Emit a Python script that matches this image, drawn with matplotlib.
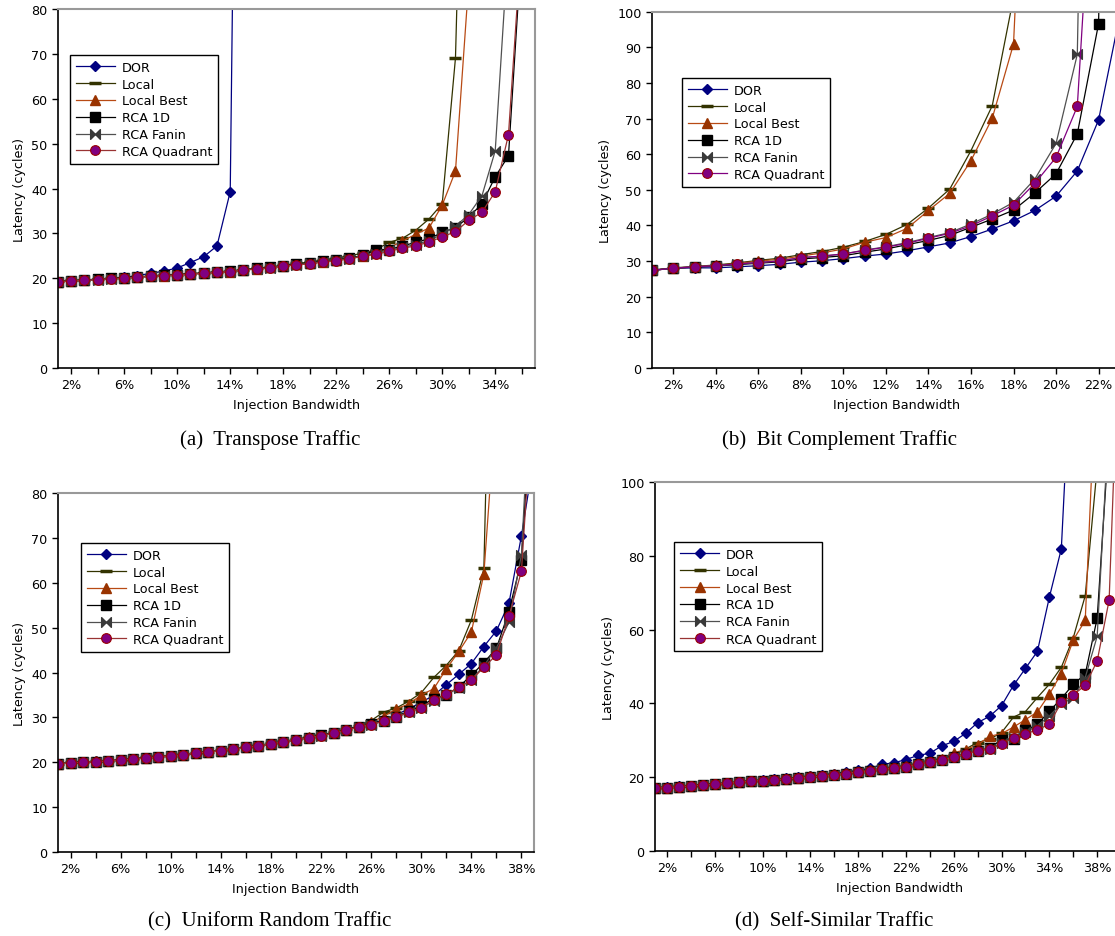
import numpy as np
import matplotlib
matplotlib.use("Agg")
import matplotlib.pyplot as plt
from matplotlib.path import Path
from matplotlib.ticker import FixedLocator, FixedFormatter

# ---- data (latency in cycles vs injection bandwidth in %) ----
series_names = ["DOR", "Local", "Local Best", "RCA 1D", "RCA Fanin", "RCA Quadrant"]

# (a) Transpose traffic
a_dor = [19.2, 19.4, 19.6, 19.8, 20.0, 20.2, 20.6, 21.1, 21.6, 22.3, 23.5, 24.8, 27.2, 39.3, 290]
a_local = [19.3, 19.5, 19.6, 19.8, 20.0, 20.1, 20.3, 20.5, 20.7, 20.8, 21.0, 21.2, 21.4, 21.6, 21.9,
           22.2, 22.5, 22.9, 23.3, 23.6, 24.1, 24.5, 25.0, 25.6, 26.4, 28.0, 28.9, 30.7, 33.2, 36.6,
           69.1, 180]
a_best = [19.2, 19.4, 19.6, 19.8, 20.0, 20.1, 20.3, 20.4, 20.6, 20.8, 21.0, 21.1, 21.3, 21.5, 21.8,
          22.1, 22.4, 22.7, 23.1, 23.3, 23.7, 24.1, 24.5, 25.0, 25.6, 26.8, 28.3, 29.8, 31.2, 36.3,
          43.9, 86]
a_1d = [19.2, 19.4, 19.6, 19.8, 20.0, 20.1, 20.3, 20.5, 20.7, 20.8, 21.0, 21.2, 21.4, 21.6, 21.9,
        22.2, 22.4, 22.8, 23.1, 23.4, 23.8, 24.1, 24.5, 25.1, 26.3, 26.4, 27.2, 28.0, 28.8, 30.2,
        31.3, 33.6, 36.6, 42.6, 47.3, 94]
a_fanin = [19.2, 19.4, 19.5, 19.7, 19.9, 20.0, 20.2, 20.4, 20.6, 20.7, 20.9, 21.1, 21.3, 21.5, 21.8,
           22.1, 22.3, 22.7, 23.0, 23.3, 23.7, 24.0, 24.4, 25.0, 25.5, 26.2, 26.9, 27.5, 28.4, 29.8,
           31.6, 34.2, 38.4, 48.4, 95]
a_quad = [19.2, 19.4, 19.5, 19.7, 19.9, 20.0, 20.2, 20.4, 20.6, 20.7, 20.9, 21.1, 21.3, 21.5, 21.8,
          22.1, 22.3, 22.7, 23.0, 23.2, 23.6, 23.9, 24.3, 24.9, 25.3, 26.0, 26.7, 27.2, 28.1, 29.2,
          30.4, 32.9, 34.7, 39.3, 52.0, 96]

# (b) Bit complement traffic
b_dor = [27.4, 28.0, 28.1, 28.1, 28.4, 28.7, 29.1, 29.7, 30.1, 30.7, 31.4, 32.0, 32.9, 34.0, 35.1,
         36.9, 39.0, 41.3, 44.2, 48.2, 55.3, 69.6, 99]
b_local = [27.5, 28.1, 28.5, 28.9, 29.5, 30.2, 30.8, 31.8, 32.7, 33.9, 35.5, 37.5, 40.3, 44.9, 50.2,
           61.0, 73.6, 104, 300]
b_best = [27.4, 28.0, 28.4, 28.8, 29.3, 30.0, 30.5, 31.4, 32.3, 33.4, 35.3, 36.6, 39.2, 44.2, 49.0,
          58.2, 70.1, 90.9, 220]
b_1d = [27.4, 28.0, 28.3, 28.6, 29.0, 29.4, 29.8, 30.6, 31.0, 31.5, 32.5, 33.4, 34.6, 35.8, 37.2,
        39.5, 41.8, 44.3, 49.1, 54.5, 65.7, 96.6, 400]
b_fanin = [27.4, 28.0, 28.4, 28.7, 29.1, 29.6, 30.1, 30.9, 31.4, 32.0, 33.1, 34.0, 35.2, 36.6, 38.0,
           40.4, 43.2, 46.5, 53.0, 63.0, 88.0, 400]
b_quad = [27.4, 28.0, 28.4, 28.7, 29.2, 29.6, 30.0, 31.0, 31.4, 32.0, 33.0, 33.9, 35.0, 36.4, 37.8,
          39.9, 42.7, 45.7, 51.8, 59.1, 73.4, 172]

# (c) Uniform random traffic
c_dor = [19.6, 19.9, 20.0, 20.2, 20.3, 20.5, 20.7, 21.0, 21.2, 21.5, 21.7, 22.0, 22.3, 22.6, 22.9,
         23.3, 23.7, 24.1, 24.6, 25.0, 25.5, 26.0, 26.6, 27.3, 27.9, 28.6, 29.5, 30.6, 31.9, 33.4,
         34.9, 37.3, 39.6, 42.0, 45.8, 49.3, 55.4, 70.5, 88]
c_local = [19.7, 20.0, 20.1, 20.2, 20.4, 20.6, 20.8, 21.1, 21.3, 21.5, 21.8, 22.1, 22.4, 22.7, 23.0,
           23.4, 23.8, 24.2, 24.7, 25.1, 25.7, 26.1, 26.7, 27.4, 28.0, 29.3, 31.2, 32.1, 33.6, 35.5,
           38.9, 41.6, 44.9, 51.7, 63.2, 180]
c_best = [19.6, 19.9, 20.0, 20.2, 20.3, 20.5, 20.7, 21.0, 21.2, 21.5, 21.7, 22.0, 22.3, 22.6, 22.9,
          23.3, 23.7, 24.1, 24.6, 25.0, 25.6, 26.0, 26.6, 27.3, 27.9, 29.0, 30.2, 31.9, 33.0, 35.0,
          36.4, 40.8, 44.7, 49.0, 62.0, 101]
c_1d = [19.6, 19.9, 20.0, 20.1, 20.3, 20.5, 20.7, 21.0, 21.2, 21.4, 21.7, 22.0, 22.3, 22.6, 22.9,
        23.3, 23.7, 24.0, 24.6, 25.0, 25.5, 26.0, 26.6, 27.3, 27.9, 28.5, 29.3, 30.2, 31.4, 32.6,
        34.2, 35.0, 36.8, 39.4, 42.2, 45.4, 53.6, 65.1, 110]
c_fanin = [19.6, 19.9, 20.0, 20.1, 20.3, 20.5, 20.7, 21.0, 21.2, 21.4, 21.7, 22.0, 22.3, 22.6, 22.9,
           23.3, 23.7, 24.0, 24.6, 24.9, 25.5, 25.9, 26.5, 27.2, 27.8, 28.4, 29.2, 30.1, 31.1, 32.2,
           33.7, 35.1, 36.6, 38.4, 41.5, 45.5, 51.2, 66.3, 120]
c_quad = [19.6, 19.9, 20.0, 20.1, 20.3, 20.5, 20.7, 21.0, 21.2, 21.4, 21.7, 22.0, 22.3, 22.6, 22.9,
          23.3, 23.7, 24.0, 24.6, 24.9, 25.5, 25.9, 26.5, 27.2, 27.8, 28.4, 29.2, 30.1, 31.1, 32.2,
          33.8, 35.2, 36.7, 38.3, 41.2, 43.9, 52.5, 62.6, 106]

# (d) Self-similar traffic
d_dor = [17.1, 17.3, 17.5, 17.7, 18.0, 18.2, 18.4, 18.7, 19.0, 19.2, 19.4, 19.7, 20.0, 20.3, 20.6,
         21.0, 21.4, 21.9, 22.4, 23.5, 23.9, 24.8, 25.9, 26.5, 28.5, 29.7, 31.9, 34.8, 36.5, 39.4,
         44.9, 49.5, 54.1, 68.8, 81.9, 147]
d_local = [17.1, 17.3, 17.5, 17.7, 18.0, 18.2, 18.4, 18.7, 19.0, 19.2, 19.4, 19.6, 19.9, 20.2, 20.4,
           20.8, 21.1, 21.5, 21.9, 22.2, 22.7, 23.1, 23.7, 24.3, 25.0, 25.9, 27.7, 29.4, 30.3, 32.1,
           36.3, 37.8, 41.6, 45.2, 49.8, 57.8, 69.2, 104]
d_best = [17.0, 17.2, 17.4, 17.6, 17.9, 18.1, 18.3, 18.6, 18.9, 19.1, 19.3, 19.6, 19.9, 20.2, 20.4,
          20.8, 21.1, 21.5, 21.9, 22.2, 22.6, 23.0, 23.6, 24.2, 24.9, 26.6, 27.5, 28.8, 31.1, 31.8,
          33.6, 35.6, 37.7, 42.5, 48.1, 57.2, 62.5, 137]
d_1d = [17.0, 17.2, 17.4, 17.6, 17.9, 18.1, 18.3, 18.6, 18.9, 19.1, 19.3, 19.5, 19.8, 20.1, 20.3,
        20.7, 21.0, 21.4, 21.8, 22.1, 22.5, 22.9, 23.5, 24.1, 24.7, 25.4, 26.3, 27.2, 27.9, 30.2,
        30.4, 32.7, 34.3, 37.9, 41.3, 45.2, 47.9, 63.1, 113]
d_fanin = [17.0, 17.2, 17.4, 17.6, 17.9, 18.1, 18.3, 18.6, 18.9, 19.1, 19.3, 19.5, 19.8, 20.1, 20.3,
           20.7, 21.0, 21.4, 21.8, 22.1, 22.5, 22.9, 23.5, 24.1, 24.7, 25.4, 26.2, 27.2, 27.6, 29.3,
           30.6, 32.2, 34.0, 36.6, 39.9, 41.5, 47.0, 58.2, 118]
d_quad = [17.0, 17.2, 17.4, 17.6, 17.9, 18.1, 18.3, 18.6, 18.9, 19.1, 19.3, 19.5, 19.8, 20.1, 20.3,
          20.7, 21.0, 21.4, 21.8, 22.1, 22.5, 22.9, 23.5, 24.1, 24.7, 25.4, 26.2, 27.2, 27.6, 29.0,
          30.7, 31.8, 32.8, 34.4, 40.3, 42.3, 44.9, 51.5, 68.0, 157]

captions = ["(a)  Transpose Traffic", "(b)  Bit Complement Traffic",
            "(c)  Uniform Random Traffic", "(d)  Self-Similar Traffic"]

# ---- styles ----
bowtie = Path([(-1, 1), (0, 0), (1, 1), (1, -1), (0, 0), (-1, -1), (-1, 1)],
              [Path.MOVETO, Path.LINETO, Path.LINETO, Path.LINETO, Path.LINETO, Path.LINETO,
               Path.CLOSEPOLY])


def styles(quad_line):
    return [
        dict(color="#000080", marker="D", ms=5, mfc="#000080", mec="#000080"),
        dict(color="#333300", marker="_", ms=9, mew=2.5, mec="#333300"),
        dict(color="#b84a14", marker="^", ms=7.5, mfc="#993300", mec="#993300"),
        dict(color="#000000", marker="s", ms=6.5, mfc="#000000", mec="#000000"),
        dict(color="#505050", marker=bowtie, ms=7, mfc="#3a3a3a", mec="#3a3a3a"),
        dict(color=quad_line, marker="o", ms=7, mfc="#800080", mec="#990000", mew=0.8),
    ]


panels = [
    dict(data=[a_dor, a_local, a_best, a_1d, a_fanin, a_quad], pos=[0.052, 0.6062, 0.4278, 0.3831],
         xlim=(1, 37), ylim=(0, 80), yticks=range(0, 81, 10), xticks=range(2, 37, 2),
         xlab=range(2, 37, 4), leg=(0.025, 0.872), quad="#993333",
         cap=(270, 440)),
    dict(data=[b_dor, b_local, b_best, b_1d, b_fanin, b_quad], pos=[0.5848, 0.6062, 0.4386, 0.3803],
         xlim=(1, 24), ylim=(0, 100), yticks=range(0, 101, 10), xticks=range(2, 25, 2),
         xlab=range(2, 23, 2), leg=(0.061, 0.814), quad="#800080",
         cap=(839, 440)),
    dict(data=[c_dor, c_local, c_best, c_1d, c_fanin, c_quad], pos=[0.052, 0.0896, 0.4269, 0.3831],
         xlim=(1, 39), ylim=(0, 80), yticks=range(0, 81, 10), xticks=range(2, 39, 2),
         xlab=range(2, 39, 4), leg=(0.048, 0.861), quad="#993333",
         cap=(270, 922)),
    dict(data=[d_dor, d_local, d_best, d_1d, d_fanin, d_quad], pos=[0.5874, 0.0907, 0.4395, 0.3938],
         xlim=(1, 42), ylim=(0, 100), yticks=range(0, 101, 20), xticks=range(2, 42, 2),
         xlab=range(2, 39, 4), leg=(0.039, 0.837), quad="#993333",
         cap=(834, 922)),
]

fig = plt.figure(figsize=(11.15, 9.37), dpi=100)

for p, cap in zip(panels, captions):
    ax = fig.add_axes(p["pos"])
    for name, ys, st in zip(series_names, p["data"], styles(p["quad"])):
        xs = np.arange(1, len(ys) + 1)
        ax.plot(xs, ys, lw=0.9, label=name, **st)
    ax.set_xlim(*p["xlim"])
    ax.set_ylim(*p["ylim"])
    ax.yaxis.set_major_locator(FixedLocator(list(p["yticks"])))
    ticks = list(p["xticks"])
    ax.xaxis.set_major_locator(FixedLocator(ticks))
    ax.xaxis.set_major_formatter(FixedFormatter([f"{t}%" if t in p["xlab"] else "" for t in ticks]))
    ax.tick_params(axis="both", labelsize=9.2, length=4, width=1, direction="out")
    ax.tick_params(top=False, right=False)
    for s in ("left", "bottom"):
        ax.spines[s].set_color("black")
        ax.spines[s].set_linewidth(1.2)
    for s in ("top", "right"):
        ax.spines[s].set_color("#999999")
        ax.spines[s].set_linewidth(1.5)
    ax.set_xlabel("Injection Bandwidth", fontsize=9.2, labelpad=5)
    ax.set_ylabel("Latency (cycles)", fontsize=9.2)
    leg = ax.legend(loc="upper left", bbox_to_anchor=p["leg"], borderaxespad=0, numpoints=1,
                    fontsize=9.2, handlelength=3.1, handletextpad=0.5, labelspacing=0.3,
                    fancybox=False, framealpha=1, borderpad=0.45)
    leg.get_frame().set_edgecolor("black")
    leg.get_frame().set_linewidth(1.0)
    fig.text(p["cap"][0] / 1115, 1 - p["cap"][1] / 937, cap, ha="center", va="center",
             fontsize=15, family="Liberation Serif")

fig.savefig("out.png", dpi=100)
